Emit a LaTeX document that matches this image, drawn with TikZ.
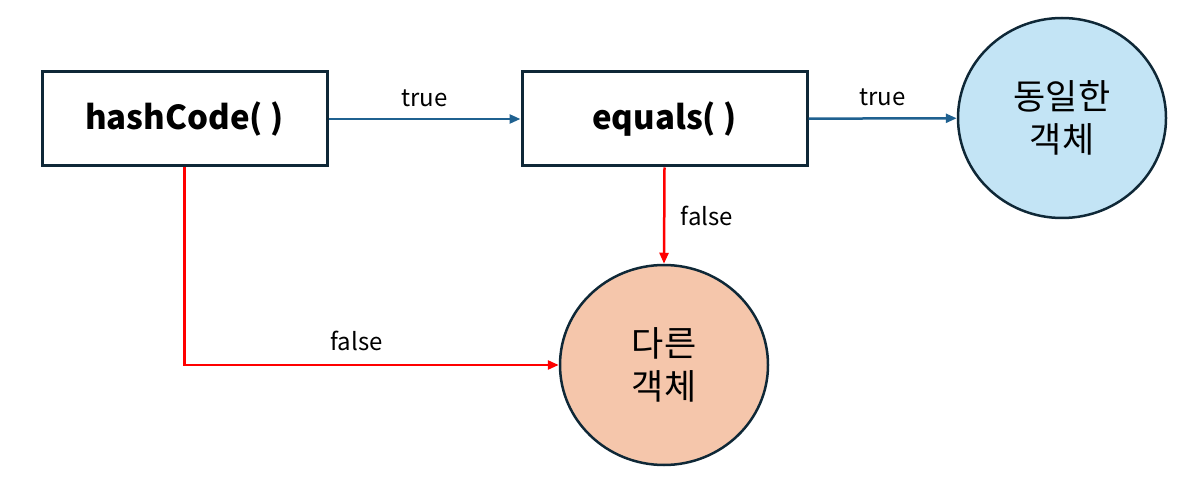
\documentclass[tikz,border=0pt]{standalone}
\usepackage{fontspec}
\setmainfont{Noto Sans CJK KR}
\usepackage{xcolor}
\usetikzlibrary{arrows.meta,shapes.geometric}

\definecolor{edgedark}{HTML}{0F2837}
\definecolor{trueblue}{HTML}{1F6190}
\definecolor{samefill}{HTML}{C3E4F5}
\definecolor{difffill}{HTML}{F5C6AB}

\begin{document}
\begin{tikzpicture}[
  x=1pt,y=1pt,
  box/.style={draw=edgedark,line width=3pt,minimum width=285pt,minimum height=94pt,
    font=\fontsize{33}{38}\selectfont\bfseries},
  result/.style={ellipse,draw=edgedark,line width=2.5pt,minimum width=208pt,
    minimum height=200pt,align=center,font=\fontsize{35}{43}\selectfont},
  lbl/.style={text=black,font=\fontsize{24}{28}\selectfont},
  yes/.style={-{Triangle[length=11pt,width=9pt]},trueblue,line width=2.5pt},
  no/.style={-{Triangle[length=11pt,width=9pt]},red,line width=2.5pt}
]
\useasboundingbox (0,0) rectangle (1188,-486);
\node[box] (hash) at (184.5,-119) {hashCode( )};
\node[box] (eq) at (664.5,-119) {equals( )};
\node[result,fill=samefill] (same) at (1062,-118) {동일한\\객체};
\node[result,fill=difffill] (diff) at (664,-365) {다른\\객체};
\draw[yes] (hash) -- node[lbl,above=8pt] {true} (eq);
\draw[yes] (eq) -- node[lbl,above=8pt] {true} (same);
\draw[no] (eq.south) -- node[lbl,right=12pt,pos=.5] {false} (diff.north);
\draw[no] (hash.south) |- node[lbl,above=10pt,pos=.73] {false} (diff.west);
\end{tikzpicture}
\end{document}
